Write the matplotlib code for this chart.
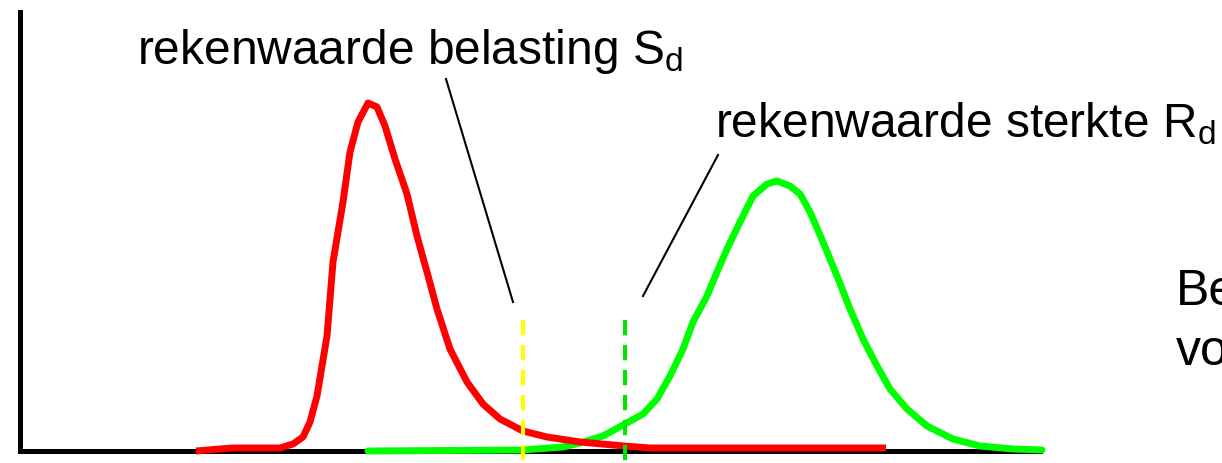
import matplotlib
matplotlib.use('Agg')
import matplotlib.pyplot as plt

plt.rcParams['font.family'] = ['Liberation Sans', 'DejaVu Sans']
plt.rcParams['mathtext.fontset'] = 'custom'
plt.rcParams['mathtext.rm'] = 'Liberation Sans'

# Belasting (load) distribution
load_x = [1.76, 2.12, 2.60, 2.73, 2.83, 2.90, 2.97, 3.07, 3.13, 3.23, 3.30, 3.38, 3.48,
          3.57, 3.65, 3.75, 3.87, 3.97, 4.07, 4.17, 4.30, 4.47, 4.63, 4.80, 5.03, 5.27,
          5.60, 6.04, 6.30, 8.66]
load_y = [0.00, 0.03, 0.03, 0.07, 0.14, 0.29, 0.55, 1.15, 1.89, 2.49, 2.99, 3.29, 3.48,
          3.44, 3.25, 2.92, 2.57, 2.15, 1.79, 1.42, 1.02, 0.69, 0.47, 0.32, 0.20, 0.14,
          0.09, 0.05, 0.03, 0.03]

# Sterkte (strength) distribution
strength_x = [3.48, 5.03, 5.43, 5.60, 5.83, 6.05, 6.23, 6.37, 6.50, 6.63, 6.73, 6.87,
              6.97, 7.07, 7.20, 7.33, 7.47, 7.57, 7.70, 7.80, 7.90, 8.03, 8.17, 8.30,
              8.43, 8.57, 8.70, 8.87, 9.07, 9.33, 9.60, 9.93, 10.22]
strength_y = [0.00, 0.01, 0.04, 0.08, 0.15, 0.27, 0.37, 0.52, 0.75, 1.02, 1.29, 1.55,
              1.79, 2.02, 2.29, 2.55, 2.67, 2.70, 2.65, 2.57, 2.39, 2.09, 1.75, 1.42,
              1.12, 0.85, 0.62, 0.42, 0.25, 0.12, 0.05, 0.02, 0.01]

# design values
s_d = 5.03
r_d = 6.05

fig = plt.figure(figsize=(12.22, 4.64), dpi=100)
ax = fig.add_axes([20 / 1222, 12 / 464, 1020 / 1222, 439 / 464])
ax.set_xlim(0, 10.2)
ax.set_ylim(0, 4.39)

for side in ['top', 'right']:
    ax.spines[side].set_visible(False)
for side in ['left', 'bottom']:
    ax.spines[side].set_linewidth(3.6)
    ax.spines[side].set_zorder(1)
ax.set_xticks([])
ax.set_yticks([])

ax.plot(strength_x, strength_y, color='#00ff00', lw=5, clip_on=False, zorder=3,
        solid_capstyle='round')
ax.plot(load_x, load_y, color='#ff0000', lw=5, clip_on=False, zorder=4,
        solid_capstyle='butt')

# dashed design value lines (run below the axis)
ax.plot([s_d, s_d], [1.31, -0.12], color='#ffff00', lw=2.9, dashes=(3.8, 2.4),
        clip_on=False, zorder=5)
ax.plot([r_d, r_d], [1.31, -0.12], color='#00e600', lw=2.9, dashes=(3.8, 2.4),
        clip_on=False, zorder=5)

# labels with pointer lines
ax.text(1.17, 3.88, r'rekenwaarde belasting S$_{\rm d}$', fontsize=34.5,
        va='baseline', ha='left', clip_on=False)
ax.plot([4.26, 4.93], [3.72, 1.49], color='black', lw=1.5, clip_on=False)

ax.text(6.95, 3.15, r'rekenwaarde sterkte R$_{\rm d}$', fontsize=34.5,
        va='baseline', ha='left', clip_on=False)
ax.plot([6.98, 6.23], [2.96, 1.55], color='black', lw=1.5, clip_on=False)

# text cut off at the right edge, as in the source slide
ax.text(11.56, 1.47, 'Be', fontsize=36, va='baseline', ha='left', clip_on=False)
ax.text(11.56, 0.87, 'vo', fontsize=36, va='baseline', ha='left', clip_on=False)

plt.savefig('out.png', dpi=100)
